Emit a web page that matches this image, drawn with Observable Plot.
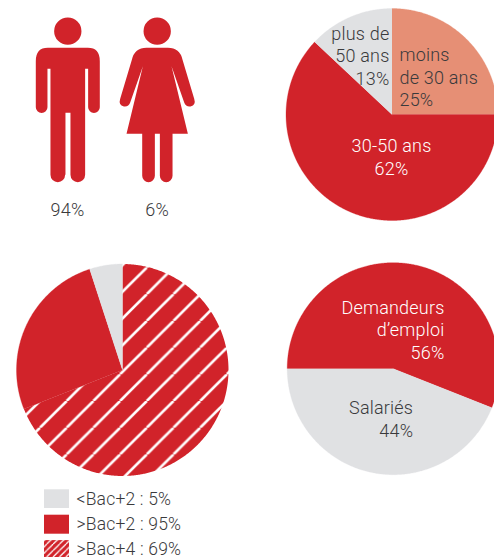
<!DOCTYPE html>
<html><head><meta charset="utf-8">
<style>html,body{margin:0;padding:0;background:#fff}svg{display:block}</style>
<script src="https://cdn.jsdelivr.net/npm/d3@7"></script>
<script src="https://cdn.jsdelivr.net/npm/@observablehq/plot@0.6"></script>
</head><body><script>
const RED="#d1232a", GREY="#e0e1e3", SALMON="#e68f75", DARK="#3a3a3c";
const FONT="Roboto";

// Data
const genderLabels=["94%","6%"];
const ageLabels=["moins\nde 30 ans\n25%","30-50 ans\n62%","plus de\n50 ans\n13%"];
const ageValues=[25,62,13];
const eduValues=[69,26,5];
const statusValues=[56,44];
const statusLabels=["Demandeurs\nd’emploi\n56%","Salariés\n44%"];
const legendLabels=["<Bac+2 : 5%",">Bac+2 : 95%",">Bac+4 : 69%"];

// Pie layout
function wedges(values,cx,cy,r,fills,start=0){
  const total=d3.sum(values);let a=start;
  return values.map((v,i)=>{
    const a0=a,a1=a+v/total*360;a=a1;
    const n=Math.ceil((a1-a0)/0.5),pts=[{x:cx,y:cy}];
    for(let k=0;k<=n;k++){const t=(a0+(a1-a0)*k/n)*Math.PI/180;pts.push({x:cx+r*Math.sin(t),y:cy-r*Math.cos(t)});}
    return Plot.line(pts,{x:"x",y:"y",fill:fills[i],stroke:fills[i]==="url(#hatch)"?"none":fills[i],strokeWidth:0.3,curve:"linear"});
  });
}

// Pictograms, drawn relative to the dot's anchor, in 1/3 px
const S=1/3;
function circle(c,x,y,r){c.moveTo(S*(x+r),S*y);c.arc(S*x,S*y,S*r,0,2*Math.PI);c.closePath();}
const man={draw(c){
  const p=(x,y)=>[S*x,S*y];
  circle(c,0,-208,41);
  c.moveTo(...p(-60,-158));
  c.lineTo(...p(60,-158));
  c.quadraticCurveTo(...p(96,-158),...p(96,-118));
  c.lineTo(...p(96,20));
  c.arc(S*78.5,S*20,S*17.5,0,Math.PI);
  c.lineTo(...p(61,-95));c.lineTo(...p(52,-95));
  c.lineTo(...p(52,223));
  c.arc(S*30,S*223,S*22,0,Math.PI);
  c.lineTo(...p(8,37));c.lineTo(...p(-7,37));
  c.lineTo(...p(-7,223));
  c.arc(S*-30,S*223,S*22,0,Math.PI);
  c.lineTo(...p(-52,-95));c.lineTo(...p(-61,-95));
  c.lineTo(...p(-61,20));
  c.arc(S*-78.5,S*20,S*17.5,0,Math.PI);
  c.lineTo(...p(-96,-118));
  c.quadraticCurveTo(...p(-96,-158),...p(-60,-158));
  c.closePath();
}};
const woman={draw(c){
  const p=(x,y)=>[S*x,S*y];
  circle(c,0,-208,41);
  c.moveTo(...p(-32,-158));
  c.lineTo(...p(32,-158));
  c.quadraticCurveTo(...p(68,-158),...p(76,-122));
  c.lineTo(...p(111,-5));
  c.quadraticCurveTo(...p(117,14),...p(100,18));
  c.quadraticCurveTo(...p(86,20),...p(81,6));
  c.lineTo(...p(43,-103));
  c.lineTo(...p(92,100));
  c.lineTo(...p(46,100));
  c.lineTo(...p(46,226));
  c.arc(S*27,S*226,S*19,0,Math.PI);
  c.lineTo(...p(8,100));c.lineTo(...p(-7,100));
  c.lineTo(...p(-7,226));
  c.arc(S*-26,S*226,S*19,0,Math.PI);
  c.lineTo(...p(-45,100));c.lineTo(...p(-92,100));
  c.lineTo(...p(-43,-103));
  c.lineTo(...p(-81,6));
  c.quadraticCurveTo(...p(-86,20),...p(-100,18));
  c.quadraticCurveTo(...p(-117,14),...p(-111,-5));
  c.lineTo(...p(-76,-122));
  c.quadraticCurveTo(...p(-68,-158),...p(-32,-158));
  c.closePath();
}};

// Hatch patterns
function defs(){
  const ns="http://www.w3.org/2000/svg";
  const g=document.createElementNS(ns,"defs");
  const make=(id,size,phase,w)=>{
    const pt=document.createElementNS(ns,"pattern");
    pt.setAttribute("id",id);pt.setAttribute("patternUnits","userSpaceOnUse");
    pt.setAttribute("width",size);pt.setAttribute("height",size);
    const r=document.createElementNS(ns,"rect");
    r.setAttribute("width",size);r.setAttribute("height",size);r.setAttribute("fill",RED);pt.append(r);
    for(const k of [-1,0,1,2]){
      const l=document.createElementNS(ns,"line");
      const o=phase+k*size;
      l.setAttribute("x1",o-size);l.setAttribute("y1",size);
      l.setAttribute("x2",o);l.setAttribute("y2",0);
      l.setAttribute("stroke","#fff");l.setAttribute("stroke-width",w);
      pt.append(l);
    }
    g.append(pt);
  };
  make("hatch",26.7,413.3%26.7,2.6);
  make("hatchSmall",6.4,2,1.3);
  return g;
}

const txt=(data,o)=>Plot.text(data,{text:d=>d,fontSize:18,lineHeight:1.25,lineAnchor:"bottom",fontFamily:FONT,fontWeight:300,...o});

const chart=Plot.plot({
  width:494,height:557,margin:0,
  x:{domain:[0,494],range:[0,494],axis:null},
  y:{domain:[0,557],range:[0,557],axis:null},
  style:{fontFamily:FONT,background:"#fff",letterSpacing:"0.2px"},
  marks:[
    defs,
    Plot.dot([0],{x:()=>67.3,y:()=>100,symbol:man,r:10,fill:RED,stroke:"none"}),
    Plot.dot([0],{x:()=>156.7,y:()=>100,symbol:woman,r:10,fill:RED,stroke:"none"}),
    txt(genderLabels,{x:(d,i)=>[67,156.7][i],y:()=>215,fill:DARK}),

    ...wedges(ageValues,391.5,114,106,[SALMON,RED,GREY]),
    txt([ageLabels[0]],{x:()=>399,y:()=>105.5,textAnchor:"start",fill:DARK}),
    txt([ageLabels[1]],{x:()=>391,y:()=>174,fill:"#fff"}),
    txt([ageLabels[2]],{x:()=>389,y:()=>84,textAnchor:"end",fill:DARK}),

    ...wedges(eduValues,122,369.5,106,["url(#hatch)",RED,GREY]),

    ...wedges(statusValues,392.7,368.2,106,[RED,GREY],270),
    txt([statusLabels[0]],{x:()=>444,y:()=>358,textAnchor:"end",fill:"#fff"}),
    txt([statusLabels[1]],{x:()=>412.7,y:()=>436,textAnchor:"end",fill:DARK}),

    Plot.rect(legendLabels,{x1:()=>44,x2:()=>69,y1:(d,i)=>489.3+i*25.4,y2:(d,i)=>Math.min(508+i*25.7,557),fill:(d,i)=>[GREY,RED,"url(#hatchSmall)"][i]}),
    txt(legendLabels,{x:()=>76,y:(d,i)=>504+i*25,textAnchor:"start",fill:DARK,fontSize:17.5}),
  ]
});
document.body.append(chart);
</script></body></html>
